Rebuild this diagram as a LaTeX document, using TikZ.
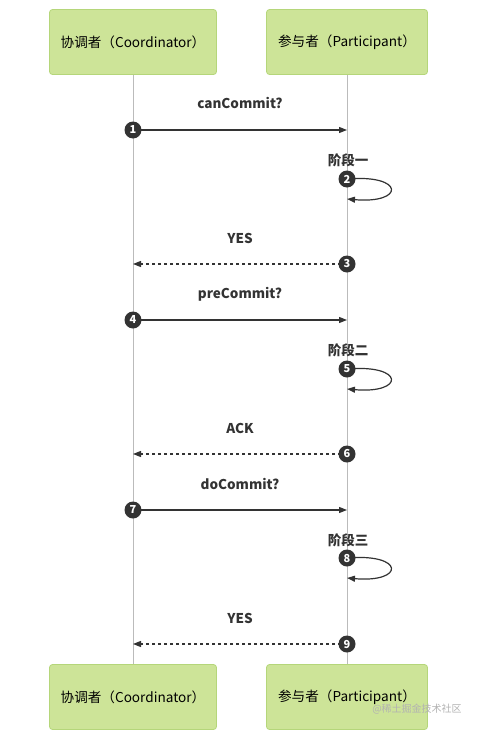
\documentclass[tikz,border=0pt]{standalone}
\usepackage{fontspec}
\setmainfont{Noto Sans CJK SC}
\usetikzlibrary{arrows.meta}
\definecolor{boxfill}{HTML}{CDE498}
\definecolor{boxdraw}{HTML}{B5D67A}
\definecolor{lifeline}{HTML}{BBBBBB}
\definecolor{msg}{HTML}{333333}
\begin{document}
\begin{tikzpicture}[x=1pt,y=-1pt,
  actor/.style={draw=boxdraw,fill=boxfill,rounded corners=3pt,minimum width=167pt,minimum height=65pt,font=\fontsize{13.6}{15}\selectfont,text=black,line width=0.8pt},
  lline/.style={draw=lifeline,line width=0.6pt},
  msgline/.style={draw=msg,line width=1.2pt,-{Triangle[length=8pt,width=6pt]}},
  retline/.style={msgline,dash pattern=on 3pt off 3pt},
  num/.style={circle,fill=msg,text=white,inner sep=0pt,minimum size=17pt,font=\fontsize{11}{12}\selectfont\bfseries},
  lbl/.style={font=\fontsize{13.5}{15}\selectfont\bfseries,text=msg,inner sep=0pt}]
\useasboundingbox (0,0) rectangle (478,731);
% actors
\node[actor] (ct) at (133,42) {协调者（Coordinator）};
\node[actor,minimum width=161pt] (pt) at (347,42) {参与者（Participant）};
\node[actor] (cb) at (133,697) {协调者（Coordinator）};
\node[actor,minimum width=161pt] (pb) at (347,697) {参与者（Participant）};
\draw[lline] (ct.south) -- (cb.north);
\draw[lline] (pt.south) -- (pb.north);
% coordinates on lifelines
\foreach \n/\y in {1/130,2/179,3/264,4/320,5/369,6/454,7/510,8/558,9/644}{
  \coordinate (c\n) at (133,\y);
  \coordinate (p\n) at (347,\y);
}
\coordinate (r2) at (347,199);
\coordinate (r5) at (347,389);
\coordinate (r8) at (347,578);
% message 1
\node[lbl] (l1) at (240,103) {canCommit?};
\draw[msgline] (c1) -- (p1);
\node[num] (n1) at (c1) {1};
% message 2
\node[lbl] (l2) at (348,160) {阶段一};
\draw[msgline] (p2) .. controls (405,174) and (405,204) .. (r2);
\node[num] (n2) at (p2) {2};
% message 3
\node[lbl] (l3) at (240,238) {YES};
\draw[retline] (p3) -- (c3);
\node[num] (n3) at (p3) {3};
% message 4
\node[lbl] (l4) at (240,294) {preCommit?};
\draw[msgline] (c4) -- (p4);
\node[num] (n4) at (c4) {4};
% message 5
\node[lbl] (l5) at (348,350) {阶段二};
\draw[msgline] (p5) .. controls (405,364) and (405,394) .. (r5);
\node[num] (n5) at (p5) {5};
% message 6
\node[lbl] (l6) at (240,428) {ACK};
\draw[retline] (p6) -- (c6);
\node[num] (n6) at (p6) {6};
% message 7
\node[lbl] (l7) at (240,484) {doCommit?};
\draw[msgline] (c7) -- (p7);
\node[num] (n7) at (c7) {7};
% message 8
\node[lbl] (l8) at (348,540) {阶段三};
\draw[msgline] (p8) .. controls (405,553) and (405,583) .. (r8);
\node[num] (n8) at (p8) {8};
% message 9
\node[lbl] (l9) at (240,618) {YES};
\draw[retline] (p9) -- (c9);
\node[num] (n9) at (p9) {9};
% watermark
\node[font=\fontsize{10}{12}\selectfont,text=black!30,inner sep=0pt] (wm) at (417,709) {@稀土掘金技术社区};
\end{tikzpicture}
\end{document}
